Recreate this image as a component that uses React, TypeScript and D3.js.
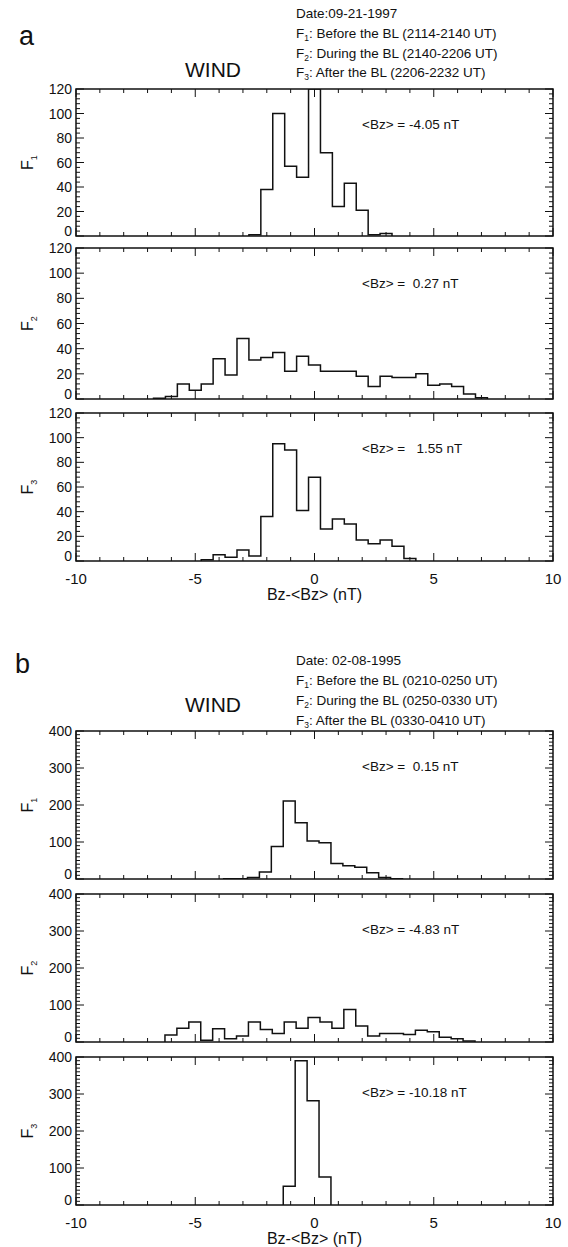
import React from 'react';
import * as d3 from 'd3';

const W = 568;
const H = 1247;

// shared x axis
const xDomain: [number, number] = [-10, 10];
const xMajor = [-10, -5, 0, 5, 10];
const binWidth = 0.5;
const xTitle = 'Bz-<Bz> (nT)';

// event a: 09-21-1997 (counts per 0.5 nT bin, first bin centre in *Start)
const aYTicks = [0, 20, 40, 60, 80, 100, 120];
const aF1Start = -2.5;
const aF1 = [1, 38, 100, 57, 48, 120, 68, 24, 43, 21, 1, 2];
const aF2Start = -6.5;
const aF2 = [0.5, 2, 12, 7, 12, 32, 19, 48, 31, 33, 37, 22, 34, 27, 22, 22, 22, 18, 10, 18, 17, 17, 20, 11, 12, 10, 4, 1];
const aF3Start = -4.5;
const aF3 = [1, 5, 3, 9, 4, 36, 95, 90, 41, 68, 26, 34, 30, 17, 14, 17, 12, 2];
const aMeans = ['-4.05', ' 0.27', '  1.55'];
const aLines = ['Date:09-21-1997', 'Before the BL (2114-2140 UT)', 'During the BL (2140-2206 UT)', 'After the BL (2206-2232 UT)'];

// event b: 02-08-1995
const bYTicks = [0, 100, 200, 300, 400];
const bF1Start = -3.56;
const bF1 = [1, 1, 4, 19, 88, 211, 152, 103, 98, 42, 36, 32, 17, 4, 1];
const bF2Start = -6.02;
const bF2 = [19, 37, 54, 5, 36, 9, 16, 54, 34, 23, 54, 37, 66, 54, 37, 88, 43, 16, 23, 23, 20, 32, 28, 13, 9, 3];
const bF3Start = -1.06;
const bF3 = [51, 390, 282, 76];
const bMeans = [' 0.15', '-4.83', '-10.18'];
const bLines = ['Date: 02-08-1995', 'Before the BL (0210-0250 UT)', 'During the BL (0250-0330 UT)', 'After the BL (0330-0410 UT)'];

const font = '"Liberation Sans", Arial, Helvetica, sans-serif';
const ink = '#111';
const plotLeft = 76;
const plotRight = 553;

type Panel = { top: number; bottom: number; yMax: number; yTicks: number[]; minorStep: number; start: number; counts: number[]; mean: string; idx: number; lastRow: boolean };

function Hist({ p, id }: { p: Panel; id: string }) {
  const x = d3.scaleLinear().domain(xDomain).range([plotLeft, plotRight]);
  const y = d3.scaleLinear().domain([0, p.yMax]).range([p.bottom, p.top]);
  const pts: [number, number][] = [[p.start - binWidth / 2, 0]];
  p.counts.forEach((c, i) => pts.push([p.start + i * binWidth - binWidth / 2, c]));
  pts.push([p.start + (p.counts.length - 1) * binWidth + binWidth / 2, 0]);
  const line = d3.line<[number, number]>().x(d => x(d[0])).y(d => y(d[1])).curve(d3.curveStepAfter);
  const xMinor = d3.range(-10, 10.01, 1).filter(v => !xMajor.includes(v));
  const yMinor = d3.range(0, p.yMax + 0.01, p.minorStep).filter(v => !p.yTicks.includes(v));
  const maj = 8, min = 4;
  return (
    <g>
      <defs>
        <clipPath id={id}><rect x={plotLeft} y={p.top} width={plotRight - plotLeft} height={p.bottom - p.top} /></clipPath>
      </defs>
      <path d={line(pts) || ''} fill="none" stroke={ink} strokeWidth={1.5} clipPath={`url(#${id})`} />
      <rect x={plotLeft} y={p.top} width={plotRight - plotLeft} height={p.bottom - p.top} fill="none" stroke={ink} strokeWidth={1.5} />
      {xMajor.map(v => (
        <g key={'xm' + v}>
          <line x1={x(v)} x2={x(v)} y1={p.bottom} y2={p.bottom - maj} stroke={ink} />
          <line x1={x(v)} x2={x(v)} y1={p.top} y2={p.top + maj} stroke={ink} />
        </g>
      ))}
      {xMinor.map(v => (
        <g key={'xn' + v}>
          <line x1={x(v)} x2={x(v)} y1={p.bottom} y2={p.bottom - min} stroke={ink} />
          <line x1={x(v)} x2={x(v)} y1={p.top} y2={p.top + min} stroke={ink} />
        </g>
      ))}
      {p.yTicks.map(v => (
        <g key={'ym' + v}>
          <line x1={plotLeft} x2={plotLeft + maj} y1={y(v)} y2={y(v)} stroke={ink} />
          <line x1={plotRight} x2={plotRight - maj} y1={y(v)} y2={y(v)} stroke={ink} />
          <text x={plotLeft - 4} y={y(v) - (v === 0 ? 5 : 0)} dy="0.36em" textAnchor="end" fontSize={14}>{v}</text>
        </g>
      ))}
      {yMinor.map(v => (
        <g key={'yn' + v}>
          <line x1={plotLeft} x2={plotLeft + min} y1={y(v)} y2={y(v)} stroke={ink} />
          <line x1={plotRight} x2={plotRight - min} y1={y(v)} y2={y(v)} stroke={ink} />
        </g>
      ))}
      <text transform={`translate(33,${(p.top + p.bottom) / 2}) rotate(-90)`} textAnchor="middle" fontSize={16}>
        F<tspan fontSize={9} dy={4}>{p.idx}</tspan>
      </text>
      <text x={362} y={p.top + 40} fontSize={13.5} style={{ whiteSpace: 'pre' }}>{`<Bz> = ${p.mean} nT`}</text>
      {p.lastRow && (
        <g>
          {xMajor.map(v => (
            <text key={'xl' + v} x={x(v)} y={p.bottom + 23} textAnchor="middle" fontSize={15}>{v}</text>
          ))}
          <text x={x(0)} y={p.bottom + 39} textAnchor="middle" fontSize={16}>{xTitle}</text>
        </g>
      )}
    </g>
  );
}

function Header({ letter, letterX, letterY, windY, lineY, lines }: { letter: string; letterX: number; letterY: number; windY: number; lineY: number[]; lines: string[] }) {
  return (
    <g>
      <text x={letterX} y={letterY} fontSize={27}>{letter}</text>
      <text x={213} y={windY} textAnchor="middle" fontSize={21}>WIND</text>
      <text x={296} y={lineY[0]} fontSize={13.5}>{lines[0]}</text>
      {[1, 2, 3].map(i => (
        <text key={i} x={296} y={lineY[i]} fontSize={13.5}>
          F<tspan fontSize={8.5} dy={3}>{i}</tspan><tspan dy={-3}>{': ' + lines[i]}</tspan>
        </text>
      ))}
    </g>
  );
}

export default function App() {
  const aBounds = [[89, 236], [248, 399], [413, 561]];
  const bBounds = [[731, 879], [894, 1042], [1057, 1205]];
  const aData = [[aF1Start, aF1], [aF2Start, aF2], [aF3Start, aF3]] as [number, number[]][];
  const bData = [[bF1Start, bF1], [bF2Start, bF2], [bF3Start, bF3]] as [number, number[]][];
  const aPanels: Panel[] = aData.map((d, i) => ({ top: aBounds[i][0], bottom: aBounds[i][1], yMax: 120, yTicks: aYTicks, minorStep: 4, start: d[0], counts: d[1], mean: aMeans[i], idx: i + 1, lastRow: i === 2 }));
  const bPanels: Panel[] = bData.map((d, i) => ({ top: bBounds[i][0], bottom: bBounds[i][1], yMax: 400, yTicks: bYTicks, minorStep: 10, start: d[0], counts: d[1], mean: bMeans[i], idx: i + 1, lastRow: i === 2 }));
  return (
    <svg width={W} height={H} style={{ position: 'absolute', left: 0, top: 0, background: '#fff' }} fontFamily={font} fill={ink}>
      <Header letter="a" letterX={19} letterY={45} windY={77} lineY={[18, 38, 58, 77]} lines={aLines} />
      <Header letter="b" letterX={15} letterY={673} windY={712} lineY={[665, 685, 705, 725]} lines={bLines} />
      {aPanels.map((p, i) => <Hist key={'a' + i} p={p} id={'clipa' + i} />)}
      {bPanels.map((p, i) => <Hist key={'b' + i} p={p} id={'clipb' + i} />)}
    </svg>
  );
}
